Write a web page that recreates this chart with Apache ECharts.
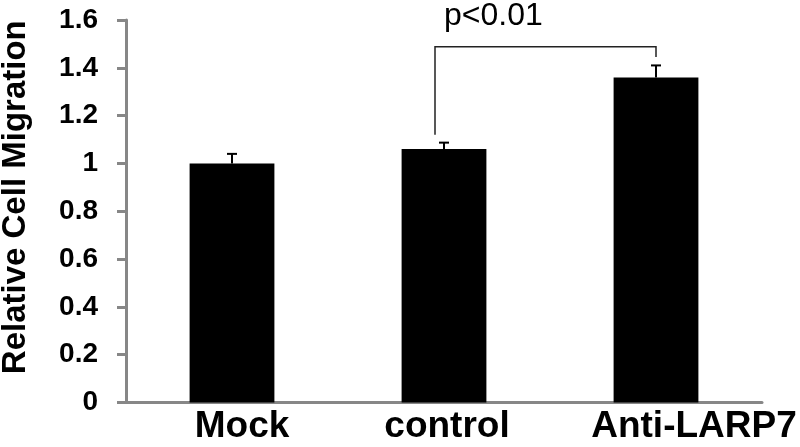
<!DOCTYPE html>
<html>
<head>
<meta charset="utf-8">
<script src="https://cdn.jsdelivr.net/npm/echarts@6/dist/echarts.min.js"></script>
<style>
  html, body { margin: 0; padding: 0; background: #fff; }
  #chart { width: 800px; height: 447px; }
</style>
</head>
<body>
<div id="chart"></div>
<script>
// data
var categories = ['Mock', 'control', 'Anti-LARP7'];
var migration = [1.0, 1.06, 1.36];
var errors = [0.04, 0.027, 0.05];
var yTicks = [0, 0.2, 0.4, 0.6, 0.8, 1, 1.2, 1.4, 1.6];
// bracket: from category index, to category index, top value, left foot, right foot
var bracket = [1, 2, 1.488, 1.12, 1.445];
var pText = 'p<0.01';

var myChart = echarts.init(document.getElementById('chart'));

var errData = categories.map(function (c, i) {
    return [i, migration[i], migration[i] + errors[i]];
});

var labelShift = { 'Mock': 20, 'control': 6, 'Anti-LARP7': 76 };
var FONT = 'Liberation Sans, Arial, sans-serif';

var option = {
    animation: false,
    grid: { left: 126, right: 38, top: 20, bottom: 44.5, containLabel: false, outerBoundsMode: 'none' },
    xAxis: {
        type: 'category',
        data: categories,
        axisLine: { lineStyle: { color: '#878787', width: 3 } },
        axisTick: { show: false },
        axisLabel: {
            margin: 6,
            formatter: function (v) {
                return '{s' + categories.indexOf(v) + '|' + v + '}';
            },
            rich: {
                s0: { padding: [0, 0, 0, labelShift['Mock']], fontSize: 37, fontWeight: 'bold', color: '#000', fontFamily: FONT },
                s1: { padding: [0, 0, 0, labelShift['control']], fontSize: 37, fontWeight: 'bold', color: '#000', fontFamily: FONT },
                s2: { padding: [0, 0, 0, labelShift['Anti-LARP7']], fontSize: 37, fontWeight: 'bold', color: '#000', fontFamily: FONT }
            }
        }
    },
    yAxis: {
        type: 'value',
        min: yTicks[0],
        max: yTicks[yTicks.length - 1],
        interval: 0.2,
        name: 'Relative Cell Migration',
        nameLocation: 'middle',
        nameGap: 94,
        nameRotate: 90,
        nameTextStyle: {
            fontSize: 33, fontWeight: 'bold', color: '#000',
            fontFamily: FONT,
            padding: [0, 0, 0, 28]
        },
        splitLine: { show: false },
        axisLine: { show: true, lineStyle: { color: '#878787', width: 3 } },
        axisTick: { show: true, length: 9, lineStyle: { color: '#878787', width: 3 } },
        axisLabel: {
            margin: 28,
            fontSize: 28, fontWeight: 'bold', color: '#000',
            fontFamily: FONT,
            formatter: function (v) { return String(Math.round(v * 10) / 10); }
        }
    },
    series: [
        {
            type: 'bar',
            data: migration,
            barWidth: '40%',
            itemStyle: { color: '#000' }
        },
        {
            type: 'custom',
            data: errData,
            z: 5,
            renderItem: function (params, api) {
                var base = api.coord([api.value(0), api.value(1)]);
                var top = api.coord([api.value(0), api.value(2)]);
                var half = 5;
                return {
                    type: 'group',
                    children: [
                        { type: 'line', shape: { x1: base[0], y1: base[1], x2: top[0], y2: top[1] }, style: { stroke: '#000', lineWidth: 2 } },
                        { type: 'line', shape: { x1: top[0] - half, y1: top[1], x2: top[0] + half, y2: top[1] }, style: { stroke: '#000', lineWidth: 2 } }
                    ]
                };
            }
        },
        {
            type: 'custom',
            data: [bracket],
            z: 6,
            renderItem: function (params, api) {
                var leftTop = api.coord([api.value(0), api.value(2)]);
                var rightTop = api.coord([api.value(1), api.value(2)]);
                var leftFoot = api.coord([api.value(0), api.value(3)]);
                var rightFoot = api.coord([api.value(1), api.value(4)]);
                var lx = leftTop[0] - 9;
                var rx = rightTop[0];
                return {
                    type: 'group',
                    children: [
                        {
                            type: 'polyline',
                            shape: { points: [[lx, leftFoot[1]], [lx, leftTop[1]], [rx, rightTop[1]], [rx, rightFoot[1]]] },
                            style: { stroke: '#222', lineWidth: 1.5, fill: null }
                        },
                        {
                            type: 'text',
                            style: {
                                x: leftTop[0], y: leftTop[1] - 31,
                                text: pText, align: 'left', verticalAlign: 'middle',
                                fontSize: 32, fill: '#000',
                                fontFamily: FONT
                            }
                        }
                    ]
                };
            }
        }
    ]
};

myChart.setOption(option);
window.addEventListener('resize', function () {
    myChart.resize();
});
</script>
</body>
</html>
